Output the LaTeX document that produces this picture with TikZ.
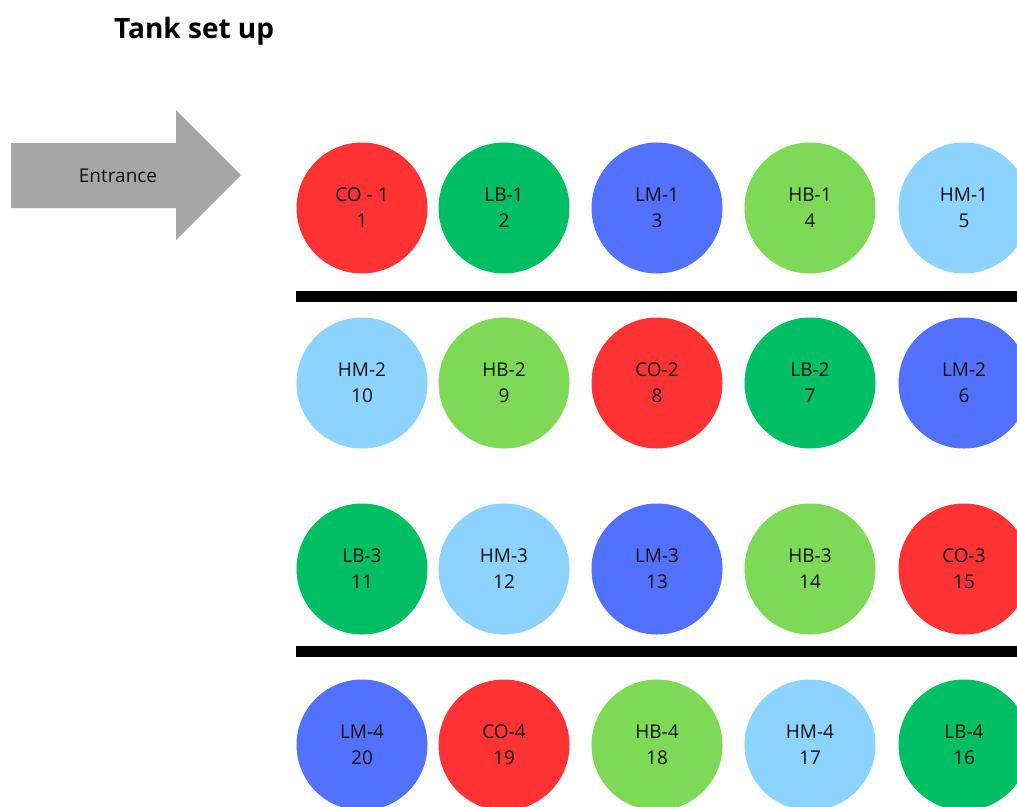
\documentclass[tikz,border=0pt]{standalone}
\usepackage{fontspec}
\setmainfont{Open Sans}
\definecolor{cred}{HTML}{FF3333}
\definecolor{cgreen}{HTML}{00BF63}
\definecolor{cblue}{HTML}{5271FF}
\definecolor{clgreen}{HTML}{7ED957}
\definecolor{clblue}{HTML}{8CD3FF}
\definecolor{cgray}{HTML}{A6A6A6}
\definecolor{ctext}{HTML}{111111}
\tikzset{
  tank/.style={circle, minimum size=131pt, inner sep=0pt, align=center,
    text=ctext, font=\fontsize{19}{26}\selectfont},
  bar/.style={fill=black},
}
\begin{document}
\begin{tikzpicture}[x=1pt,y=-1pt]
\useasboundingbox (0,0) rectangle (1017,806);
\clip (0,0) rectangle (1017,806);
\node[font=\fontsize{28}{32}\selectfont\bfseries, anchor=base west, inner sep=0pt] (title) at (114,38) {Tank set up};
\fill[cgray] (11,143) -- (176,143) -- (176,110) -- (241,175) -- (176,240) -- (176,208) -- (11,208) -- cycle;
\node[font=\fontsize{19}{22}\selectfont, text=ctext] (entr) at (118,176) {Entrance};
% row 1
\node[tank, fill=cred] (t1) at (362,208) {CO - 1\\1};
\node[tank, fill=cgreen] (t2) at (504,208) {LB-1\\2};
\node[tank, fill=cblue] (t3) at (657,208) {LM-1\\3};
\node[tank, fill=clgreen] (t4) at (810,208) {HB-1\\4};
\node[tank, fill=clblue] (t5) at (964,208) {HM-1\\5};
\fill[bar] (296,291) rectangle (1017,302);
% row 2
\node[tank, fill=clblue] (t10) at (362,383) {HM-2\\10};
\node[tank, fill=clgreen] (t9) at (504,383) {HB-2\\9};
\node[tank, fill=cred] (t8) at (657,383) {CO-2\\8};
\node[tank, fill=cgreen] (t7) at (810,383) {LB-2\\7};
\node[tank, fill=cblue] (t6) at (964,383) {LM-2\\6};
% row 3
\node[tank, fill=cgreen] (t11) at (362,569) {LB-3\\11};
\node[tank, fill=clblue] (t12) at (504,569) {HM-3\\12};
\node[tank, fill=cblue] (t13) at (657,569) {LM-3\\13};
\node[tank, fill=clgreen] (t14) at (810,569) {HB-3\\14};
\node[tank, fill=cred] (t15) at (964,569) {CO-3\\15};
\fill[bar] (296,646) rectangle (1017,657);
% row 4
\node[tank, fill=cblue] (t20) at (362,745) {LM-4\\20};
\node[tank, fill=cred] (t19) at (504,745) {CO-4\\19};
\node[tank, fill=clgreen] (t18) at (657,745) {HB-4\\18};
\node[tank, fill=clblue] (t17) at (810,745) {HM-4\\17};
\node[tank, fill=cgreen] (t16) at (964,745) {LB-4\\16};
\end{tikzpicture}
\end{document}
